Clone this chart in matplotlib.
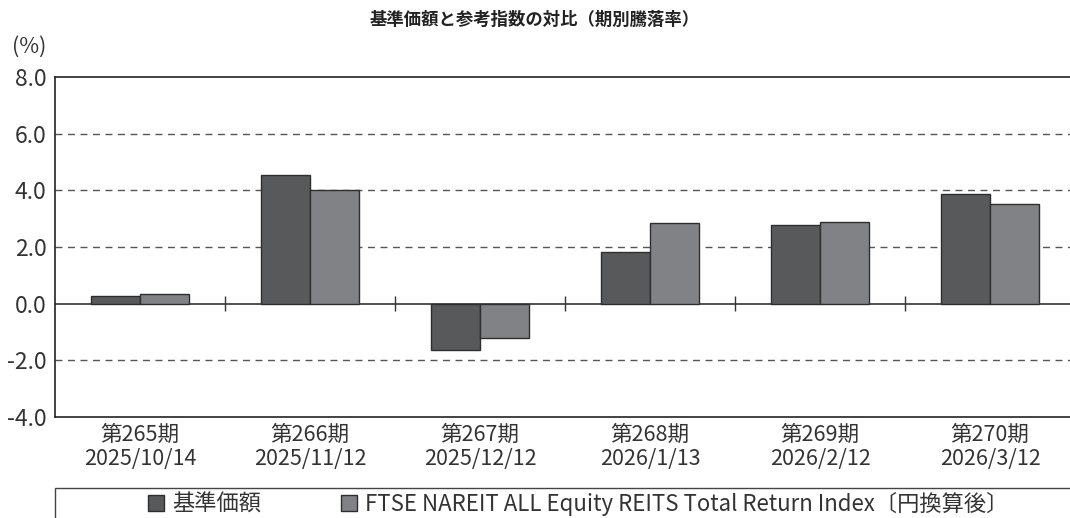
import matplotlib
matplotlib.use('Agg')
import matplotlib.pyplot as plt
import numpy as np
from matplotlib.patches import Patch, Rectangle

plt.rcParams['font.family'] = ['Noto Sans CJK JP', 'DejaVu Sans']

# Data
periods = ['第265期', '第266期', '第267期', '第268期', '第269期', '第270期']
dates = ['2025/10/14', '2025/11/12', '2025/12/12', '2026/1/13', '2026/2/12', '2026/3/12']
fund = [0.27, 4.54, -1.63, 1.81, 2.77, 3.86]
index = [0.35, 4.01, -1.21, 2.85, 2.87, 3.53]
series_names = ['基準価額', 'FTSE NAREIT ALL Equity REITS Total Return Index〔円換算後〕']
y_ticks = [-4.0, -2.0, 0.0, 2.0, 4.0, 6.0, 8.0]

DARK = '#58595b'
GRAY = '#808285'
EDGE = '#2e2e2e'

fig = plt.figure(figsize=(10.7, 5.18), dpi=100)
ax = fig.add_axes([55 / 1070, 1 - 417 / 518, 1020 / 1070, 340 / 518])

x = np.arange(len(periods))
w = 0.29
ax.bar(x - w / 2, fund, w, color=DARK, edgecolor=EDGE, linewidth=1.0, zorder=3)
ax.bar(x + w / 2, index, w, color=GRAY, edgecolor=EDGE, linewidth=1.0, zorder=3)

ax.set_xlim(-0.5, len(periods) - 0.5)
ax.set_ylim(-4, 8)
ax.set_yticks(y_ticks)
ax.set_yticklabels([f'{v:.1f}' for v in y_ticks], fontsize=16.5, color='#333333')
ax.tick_params(axis='y', length=0, pad=6)

# dashed gridlines
for v in y_ticks:
    if v in (-4.0, 0.0, 8.0):
        continue
    ax.axhline(v, color='#555555', linestyle=(0, (5, 4)), linewidth=1.0, zorder=1)

# zero line with category separators
ax.axhline(0, color='#333333', linewidth=1.2, zorder=2)
ax.vlines(x[:-1] + 0.5, -0.27, 0.27, color='#333333', linewidth=1.0, zorder=2)

ax.set_xticks(x)
ax.set_xticklabels([f'{p}\n{d}' for p, d in zip(periods, dates)], fontsize=15.5,
                   color='#333333', linespacing=1.1)
ax.tick_params(axis='x', length=0, pad=5)

for s in ['left', 'top', 'bottom']:
    ax.spines[s].set_color('#222222')
    ax.spines[s].set_linewidth(1.2)
ax.spines['right'].set_visible(False)

fig.text(535 / 1070, 1 - 20 / 518, '基準価額と参考指数の対比（期別騰落率）', ha='center', va='center',
         fontsize=12.5, fontweight='bold', color='#222222')
fig.text(12 / 1070, 1 - 47 / 518, '(%)', ha='left', va='center', fontsize=15.5, color='#333333')

# legend box
fig.patches.append(Rectangle((55 / 1070, 1 - 520 / 518), 1020 / 1070, 32 / 518,
                             transform=fig.transFigure, fill=False, edgecolor='#444444',
                             linewidth=1.0, clip_on=False))
handles = [Patch(facecolor=DARK, edgecolor=EDGE, linewidth=1.0),
           Patch(facecolor=GRAY, edgecolor=EDGE, linewidth=1.0)]
fig.legend(handles, series_names, loc='center', bbox_to_anchor=(578 / 1070, 1 - 504 / 518),
           ncol=2, frameon=False, fontsize=16, handlelength=0.72, handleheight=0.72,
           handletextpad=0.35, columnspacing=3.6, labelcolor='#333333')

fig.savefig('out.png', dpi=100)
